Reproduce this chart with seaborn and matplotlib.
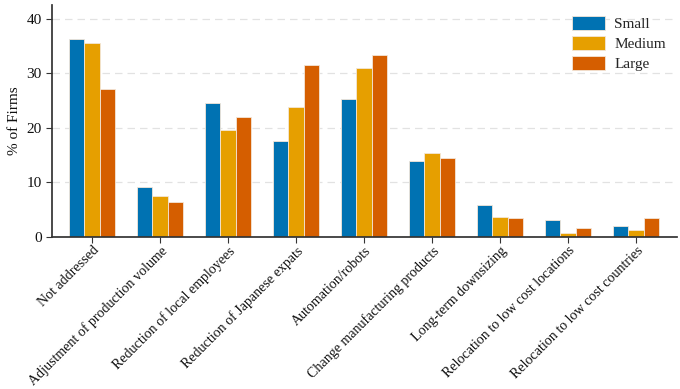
import matplotlib
matplotlib.use("Agg")
import matplotlib.pyplot as plt
import seaborn as sns
import pandas as pd

categories = ["Not addressed", "Adjustment of production volume", "Reduction of local employees",
              "Reduction of Japanese expats", "Automation/robots", "Change manufacturing products",
              "Long-term downsizing", "Relocation to low cost locations", "Relocation to low cost countries"]
small = [36.2, 9.2, 24.6, 17.5, 25.2, 13.9, 5.9, 3.2, 2.0]
medium = [35.5, 7.5, 19.6, 23.8, 30.9, 15.4, 3.7, 0.8, 1.3]
large = [27.2, 6.5, 21.9, 31.6, 33.4, 14.4, 3.4, 1.7, 3.4]
sizes = ["Small", "Medium", "Large"]
colors = ["#0072B2", "#E69F00", "#D55E00"]

rows = []
for s, vals in zip(sizes, [small, medium, large]):
    for c, v in zip(categories, vals):
        rows.append({"cat": c, "size": s, "val": v})
df = pd.DataFrame(rows)

sns.set_theme(style="white")
plt.rcParams["font.family"] = ["Liberation Serif", "DejaVu Serif"]

fig = plt.figure(figsize=(6.8, 3.89), dpi=100)
ax = fig.add_axes([52/680, 1-237/389, (677-52)/680, (237-5)/389])
sns.barplot(data=df, x="cat", y="val", hue="size", order=categories, hue_order=sizes,
            palette=colors, width=0.68, saturation=1, ax=ax, edgecolor="#f3e6d8", linewidth=0.6)

ax.set_xlim(-0.59, 8.6)
ax.set_ylim(0, 42.5)
ax.set_yticks([0, 10, 20, 30, 40])
ax.yaxis.grid(True, linestyle=(0, (6, 4)), color="#e2e2e2", linewidth=0.9)
ax.set_axisbelow(True)
for sp in ["top", "right"]:
    ax.spines[sp].set_visible(False)
ax.spines["left"].set_color("#333333")
ax.spines["bottom"].set_color("#333333")
ax.tick_params(axis="both", which="both", length=4, width=0.8, color="#333333",
               labelcolor="#111111", bottom=True, left=True)
ax.tick_params(axis="y", labelsize=11)
ax.tick_params(axis="x", pad=1)
ax.set_xticks(range(len(categories)))
ax.set_xticklabels(categories, rotation=45, ha="right", rotation_mode="anchor", fontsize=10.1)
ax.set_xlabel("")
ax.set_ylabel("% of Firms", fontsize=11, color="#111111")

leg = ax.legend(loc="upper right", frameon=False, fontsize=11, handlelength=2.2, handleheight=1.0,
                bbox_to_anchor=(666/680, (389-16)/389), bbox_transform=fig.transFigure,
                borderaxespad=0, borderpad=0, labelspacing=0.33, handletextpad=0.6)
leg.set_title(None)

fig.savefig("out.png", dpi=100)
